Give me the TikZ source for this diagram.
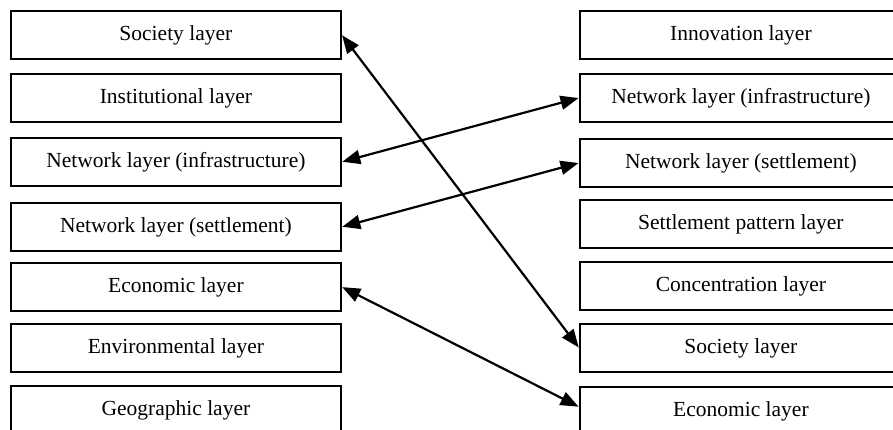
\documentclass[tikz,border=0pt]{standalone}
\usepackage{fontspec}
\setmainfont{Liberation Serif}
\usetikzlibrary{arrows.meta}

\tikzset{
  layerbox/.style={draw=black, line width=1.8pt, fill=white, inner sep=0pt,
    anchor=north west, minimum height=48pt,
    font=\fontsize{21.5}{25}\selectfont},
  leftbox/.style={layerbox, minimum width=330pt},
  rightbox/.style={layerbox, minimum width=322pt},
  link/.style={line width=2.2pt, {Triangle[length=18pt,width=14pt]}-{Triangle[length=18pt,width=14pt]}, shorten <=0.5pt, shorten >=0.5pt}
}

\begin{document}
\begin{tikzpicture}[x=1pt, y=-1pt]
\useasboundingbox (0,0) rectangle (893,430);
\fill[white] (0,0) rectangle (893,430);
\clip (0,0) rectangle (893,430);

% left column
\node[leftbox] (l1) at (10,10)  {Society layer};
\node[leftbox] (l2) at (10,73)  {Institutional layer};
\node[leftbox] (l3) at (10,137) {Network layer (infrastructure)};
\node[leftbox] (l4) at (10,202) {Network layer (settlement)};
\node[leftbox] (l5) at (10,262) {Economic layer};
\node[leftbox] (l6) at (10,323) {Environmental layer};
\node[leftbox] (l7) at (10,385) {Geographic layer};

% right column
\node[rightbox] (r1) at (579,10)  {Innovation layer};
\node[rightbox] (r2) at (579,73)  {Network layer (infrastructure)};
\node[rightbox] (r3) at (579,138) {Network layer (settlement)};
\node[rightbox] (r4) at (579,199) {Settlement pattern layer};
\node[rightbox] (r5) at (579,261) {Concentration layer};
\node[rightbox] (r6) at (579,323) {Society layer};
\node[rightbox] (r7) at (579,386) {Economic layer};

% links between corresponding layers
\draw[link] (l1.east) -- (r6.west);
\draw[link] (l3.east) -- (r2.west);
\draw[link] (l4.east) -- (r3.west);
\draw[link] (l5.east) -- ([yshift=4pt]r7.west);
\end{tikzpicture}
\end{document}
